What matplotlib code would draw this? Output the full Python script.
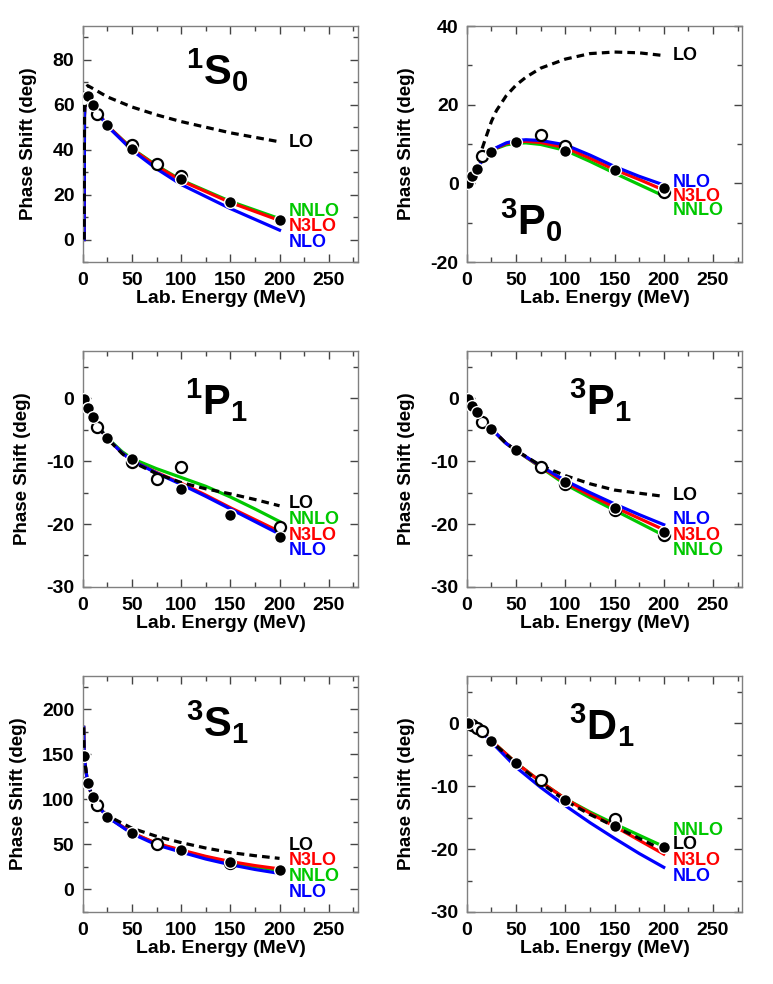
import matplotlib
matplotlib.use("Agg")
import matplotlib.pyplot as plt
from matplotlib.ticker import MultipleLocator

plt.rcParams['font.family'] = ['Liberation Sans', 'DejaVu Sans']
plt.rcParams['font.weight'] = 'bold'
plt.rcParams['axes.unicode_minus'] = False
plt.rcParams['mathtext.fontset'] = 'custom'
plt.rcParams['mathtext.rm'] = 'Liberation Sans:bold'
plt.rcParams['mathtext.it'] = 'Liberation Sans:bold'
plt.rcParams['mathtext.bf'] = 'Liberation Sans:bold'

GREEN, RED, BLUE = '#00c800', '#ff0000', '#0000ff'

# ---- 1S0 ----
e_1s0 = [1.5, 1.8, 2.5, 5, 10, 25, 50, 75, 100, 150, 200]
lo_1s0 = [0, 60, 67, 68.5, 67.3, 63.5, 59, 55.5, 52.5, 47.5, 43.5]
nlo_1s0 = [0, 55, 62, 63.5, 59.8, 50.5, 39.8, 31.5, 24.5, 13.8, 4.2]
nnlo_1s0 = [0, 55, 62, 63.5, 59.8, 50.7, 40.5, 33.0, 26.5, 17.0, 9.3]
n3lo_1s0 = [0, 55, 62, 63.5, 59.8, 50.7, 40.3, 32.7, 26.2, 16.5, 8.5]
pts_e_1s0 = [5, 10, 25, 50, 100, 150, 200]
pts_d_1s0 = [63.7, 59.7, 50.8, 40.5, 26.8, 16.7, 8.9]
opn_e_1s0 = [1, 15, 50, 75, 100]
opn_d_1s0 = [62, 56, 42.3, 33.8, 28.4]

# ---- 3P0 ----
e_3p0 = [0, 5, 10, 15, 20, 25, 30, 40, 50, 60, 75, 100, 125, 150, 175, 200]
lo_3p0 = [0, 2, 4.5, 8.5, 12.2, 15.8, 18.5, 22.3, 25, 27, 29.3, 31.6, 33, 33.4, 33.2, 32.5]
nlo_3p0 = [0, 1.8, 3.7, 5.6, 7, 8.2, 9.1, 10.3, 10.9, 11.1, 10.9, 9.8, 7.2, 4.3, 1.8, -0.4]
n3lo_3p0 = [0, 1.8, 3.7, 5.6, 7, 8.2, 9.0, 10.1, 10.6, 10.7, 10.4, 9.1, 6.4, 3.5, 1.0, -1.7]
nnlo_3p0 = [0, 1.8, 3.7, 5.6, 7, 8.1, 8.9, 9.8, 10.2, 10.3, 9.9, 8.4, 5.6, 2.6, -0.3, -3.2]
pts_e_3p0 = [1, 5, 10, 25, 50, 100, 150, 200]
pts_d_3p0 = [0.1, 1.8, 3.7, 8.0, 10.6, 8.3, 3.5, -1.3]
opn_e_3p0 = [15, 75, 100, 200]
opn_d_3p0 = [6.9, 12.2, 9.5, -2.2]

# ---- 1P1 ----
e_p = [0, 5, 10, 15, 25, 40, 50, 75, 100, 125, 150, 175, 200]
lo_1p1 = [0, -1.5, -3, -4.4, -6.4, -8.8, -10.1, -12, -13.4, -14.4, -15.2, -16.1, -17.1]
nlo_1p1 = [0, -1.5, -3, -4.4, -6.4, -8.7, -9.9, -11.9, -13.7, -15.6, -17.6, -19.6, -21.6]
nnlo_1p1 = [0, -1.5, -3, -4.4, -6.3, -8.5, -9.6, -11.2, -12.6, -14.0, -15.7, -17.6, -19.6]
n3lo_1p1 = [0, -1.5, -3, -4.4, -6.4, -8.7, -9.9, -11.8, -13.5, -15.4, -17.4, -19.3, -21.2]
pts_e_1p1 = [1, 5, 10, 25, 50, 100, 150, 200]
pts_d_1p1 = [-0.2, -1.5, -3.0, -6.3, -9.6, -14.5, -18.6, -22.1]
opn_e_1p1 = [15, 50, 75, 100, 200]
opn_d_1p1 = [-4.5, -10.1, -12.9, -11.0, -20.5]
opn_err_1p1 = [0, 0, 0, 0.7, 0]

# ---- 3P1 ----
lo_3p1 = [0, -1.1, -2.2, -3.6, -4.9, -7.2, -8.3, -10.7, -12.3, -13.6, -14.6, -15.1, -15.6]
nlo_3p1 = [0, -1.1, -2.2, -3.6, -4.9, -7.2, -8.3, -10.8, -13.1, -15.0, -16.8, -18.5, -20.1]
n3lo_3p1 = [0, -1.1, -2.2, -3.6, -4.9, -7.2, -8.3, -10.9, -13.4, -15.4, -17.3, -19.1, -20.9]
nnlo_3p1 = [0, -1.1, -2.2, -3.6, -4.9, -7.2, -8.3, -11.0, -13.7, -15.8, -17.8, -19.8, -21.8]
pts_e_3p1 = [1, 5, 10, 25, 50, 100, 150, 200]
pts_d_3p1 = [-0.1, -1.2, -2.2, -4.9, -8.2, -13.3, -17.5, -21.2]
opn_e_3p1 = [15, 75, 100, 150, 200]
opn_d_3p1 = [-3.8, -10.9, -13.7, -17.7, -21.7]

# ---- 3S1 ----
e_3s1 = [1, 1.5, 5, 10, 15, 25, 50, 75, 100, 125, 150, 175, 200]
lo_3s1 = [180, 147, 118, 103, 95, 82, 68, 59, 52, 46, 41, 37.5, 34.5]
nlo_3s1 = [180, 147, 118, 102.5, 93.5, 80.5, 62, 49.5, 41.5, 33.8, 27.5, 22.2, 17.8]
nnlo_3s1 = [180, 147, 118, 102.5, 93.5, 80.7, 62.8, 50.8, 43, 36, 30, 25.3, 21]
n3lo_3s1 = [180, 147, 118, 102.5, 93.5, 80.7, 63, 51.2, 43.8, 36.8, 31, 26.5, 22.8]
pts_e_3s1 = [1, 5, 10, 25, 50, 100, 150, 200]
pts_d_3s1 = [148, 118.5, 103, 80.7, 63, 43.7, 30.7, 21.5]
opn_e_3s1 = [15, 75, 150]
opn_d_3s1 = [93.7, 51, 29]

# ---- 3D1 ----
e_3d1 = [0, 5, 10, 15, 25, 50, 75, 100, 125, 150, 175, 200]
lo_3d1 = [0, -0.2, -0.7, -1.3, -2.9, -6.4, -9.5, -12.3, -14.5, -16.4, -18.3, -20.2]
nlo_3d1 = [0, -0.2, -0.7, -1.3, -3.0, -7.0, -10.2, -13.1, -15.8, -18.3, -20.7, -22.9]
n3lo_3d1 = [0, -0.2, -0.7, -1.3, -2.8, -6.3, -9.3, -12.0, -14.3, -16.4, -18.6, -20.8]
nnlo_3d1 = [0, -0.2, -0.7, -1.3, -2.8, -6.3, -9.3, -12.0, -14.1, -16.0, -17.8, -19.6]
pts_e_3d1 = [1, 25, 50, 100, 150, 200]
pts_d_3d1 = [0, -2.85, -6.4, -12.2, -16.4, -19.6]
opn_e_3d1 = [5, 10, 15, 75, 150]
opn_d_3d1 = [-0.3, -0.7, -1.3, -9.0, -15.2]

panels = [
    dict(title=r'$^{1}\mathrm{S}_{0}$', tpos=(0.49, 0.81), e=e_1s0,
         lo=lo_1s0, nlo=nlo_1s0, nnlo=nnlo_1s0, n3lo=n3lo_1s0,
         pe=pts_e_1s0, pd=pts_d_1s0, oe=opn_e_1s0, od=opn_d_1s0, oerr=None,
         ylim=(-10, 95), major=20, minor=10, ylab_x=-0.166,
         labels=[('LO', 43.4), ('NNLO', 12.7), ('N3LO', 5.6), ('NLO', -1.5)]),
    dict(title=r'$^{3}\mathrm{P}_{0}$', tpos=(0.235, 0.175), e=e_3p0,
         lo=lo_3p0, nlo=nlo_3p0, nnlo=nnlo_3p0, n3lo=n3lo_3p0,
         pe=pts_e_3p0, pd=pts_d_3p0, oe=opn_e_3p0, od=opn_d_3p0, oerr=None,
         ylim=(-20, 40), major=20, minor=10, ylab_x=-0.19,
         labels=[('LO', 32.6), ('NLO', 0.3), ('N3LO', -3.4), ('NNLO', -7.0)]),
    dict(title=r'$^{1}\mathrm{P}_{1}$', tpos=(0.486, 0.79), e=e_p,
         lo=lo_1p1, nlo=nlo_1p1, nnlo=nnlo_1p1, n3lo=n3lo_1p1,
         pe=pts_e_1p1, pd=pts_d_1p1, oe=opn_e_1p1, od=opn_d_1p1, oerr=opn_err_1p1,
         ylim=(-30, 7.5), major=10, minor=5, ylab_x=-0.189,
         labels=[('LO', -16.7), ('NNLO', -19.3), ('N3LO', -21.8), ('NLO', -24.2)]),
    dict(title=r'$^{3}\mathrm{P}_{1}$', tpos=(0.486, 0.79), e=e_p,
         lo=lo_3p1, nlo=nlo_3p1, nnlo=nnlo_3p1, n3lo=n3lo_3p1,
         pe=pts_e_3p1, pd=pts_d_3p1, oe=opn_e_3p1, od=opn_d_3p1, oerr=None,
         ylim=(-30, 7.5), major=10, minor=5, ylab_x=-0.19,
         labels=[('LO', -15.4), ('NLO', -19.3), ('N3LO', -21.8), ('NNLO', -24.2)]),
    dict(title=r'$^{3}\mathrm{S}_{1}$', tpos=(0.49, 0.805), e=e_3s1,
         lo=lo_3s1, nlo=nlo_3s1, nnlo=nnlo_3s1, n3lo=n3lo_3s1,
         pe=pts_e_3s1, pd=pts_d_3s1, oe=opn_e_3s1, od=opn_d_3s1, oerr=None,
         ylim=(-25, 237), major=50, minor=25, ylab_x=-0.203,
         labels=[('LO', 49), ('N3LO', 31.8), ('NNLO', 14), ('NLO', -3.7)]),
    dict(title=r'$^{3}\mathrm{D}_{1}$', tpos=(0.49, 0.79), e=e_3d1,
         lo=lo_3d1, nlo=nlo_3d1, nnlo=nnlo_3d1, n3lo=n3lo_3d1,
         pe=pts_e_3d1, pd=pts_d_3d1, oe=opn_e_3d1, od=opn_d_3d1, oerr=None,
         ylim=(-30, 7.5), major=10, minor=5, ylab_x=-0.19,
         labels=[('NNLO', -17.0), ('LO', -19.2), ('N3LO', -21.8), ('NLO', -24.4)]),
]

label_color = {'LO': 'black', 'NLO': BLUE, 'NNLO': GREEN, 'N3LO': RED}

fig = plt.figure(figsize=(7.73, 9.84), dpi=100)
lefts = [0.107, 0.604]
bottoms = [0.7337, 0.4035, 0.0732]
W, H = 0.3565, 0.2398

for i, p in enumerate(panels):
    ax = fig.add_axes([lefts[i % 2], bottoms[i // 2], W, H])
    lw = 2.3
    ax.plot(p['e'], p['nnlo'], color=GREEN, lw=lw, zorder=2)
    ax.plot(p['e'], p['n3lo'], color=RED, lw=lw, zorder=2)
    ax.plot(p['e'], p['nlo'], color=BLUE, lw=lw, zorder=2)
    ax.plot(p['e'], p['lo'], color='black', lw=lw, ls=(0, (2.4, 1.6)), zorder=3)

    if p['oerr'] is not None:
        ax.errorbar(p['oe'], p['od'], yerr=p['oerr'], fmt='none', ecolor='black',
                    elinewidth=1.5, capsize=3, capthick=1.5, zorder=4)
    ax.plot(p['oe'], p['od'], 'o', ms=8, mfc='white', mec='black', mew=1.6, zorder=5)
    ax.plot(p['pe'], p['pd'], 'o', ms=8.5, mfc='black', mec='white', mew=1.0, zorder=6)

    for name, y in p['labels']:
        ax.text(209, y, name, color=label_color[name], fontsize=13,
                fontweight='bold', va='center', ha='left')

    ax.text(p['tpos'][0], p['tpos'][1], p['title'], transform=ax.transAxes,
            fontsize=30, ha='center', va='center')

    ax.set_xlim(0, 280)
    ax.set_ylim(*p['ylim'])
    ax.xaxis.set_major_locator(MultipleLocator(50))
    ax.xaxis.set_minor_locator(MultipleLocator(25))
    ax.yaxis.set_major_locator(MultipleLocator(p['major']))
    ax.yaxis.set_minor_locator(MultipleLocator(p['minor']))
    ax.tick_params(which='both', direction='in', top=True, right=True,
                   color='#444444', width=1.0, labelsize=14)
    ax.tick_params(axis='x', which='major', pad=7)
    ax.tick_params(axis='y', which='major', pad=6)
    ax.tick_params(which='major', length=6)
    ax.tick_params(which='minor', length=3.5)
    for lab in ax.get_xticklabels() + ax.get_yticklabels():
        lab.set_fontweight('bold')
    for s in ax.spines.values():
        s.set_color('#808080')
        s.set_linewidth(1.0)
    ax.set_xlabel('Lab. Energy (MeV)', fontsize=14, fontweight='bold', labelpad=1)
    ax.set_ylabel('Phase Shift (deg)', fontsize=13.5, fontweight='bold')
    ax.yaxis.set_label_coords(p['ylab_x'], 0.5)

fig.savefig('out.png', dpi=100)
